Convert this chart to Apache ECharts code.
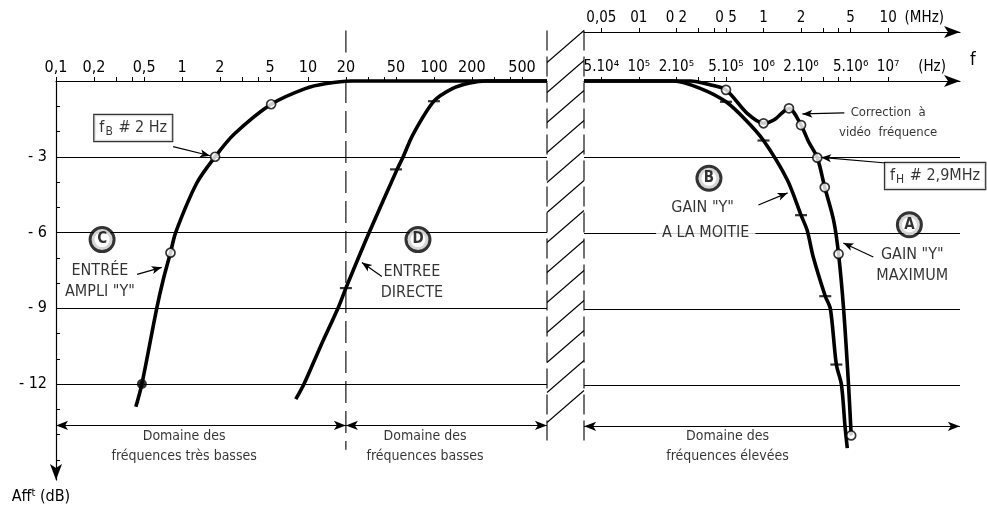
<!DOCTYPE html>
<html><head><meta charset="utf-8">
<script src="https://cdn.jsdelivr.net/npm/echarts@6/dist/echarts.min.js"></script>
<style>html,body{margin:0;padding:0;background:#fff}#c{width:987px;height:505px}</style>
</head><body><div id="c"></div>
<script>
const FONT = "'Liberation Sans Narrow','DejaVu Sans Condensed','Arial Narrow','Liberation Sans',sans-serif";

// ---------- axes ----------
const lowTickLabels = [0.1, 0.2, 0.5, 1, 2, 5, 10, 20, 50, 100, 200, 500];
const lowTicks = [0.1,0.2,0.3,0.4,0.5,1,2,3,4,5,10,20,30,40,50,100,200,300,400,500];
const highTicks = [5e4,1e5,2e5,3e5,4e5,5e5,1e6,2e6,3e6,4e6,5e6,1e7];
const hzLabelValues = [5e4,1e5,2e5,5e5,1e6,2e6,5e6,1e7,2.25e7];
const hzLabelTexts  = ['5.10⁴','10⁵','2.10⁵','5.10⁵','10⁶','2.10⁶','5.10⁶','10⁷','(Hz)'];
const mhzLabelValues = [5e4,1e5,2e5,5e5,1e6,2e6,5e6,1e7,1.95e7];
const mhzLabelTexts  = ['0,05','01','0 2','0 5','1','2','5','10','(MHz)'];
const dbTicks = [0,-1,-2,-3,-4,-5,-6,-7,-8,-9,-10,-11,-12,-13,-14,-15];
const dbLabels = [-3,-6,-9,-12];
const gridLevels = [-3,-6,-9,-12];
const LOW_MIN = 0.0999, LOW_MAX = 790;
const HIGH_MIN = 3.63e4, HIGH_MAX = 3.77e7;
const DB_MIN = -15.8;

// ---------- curves (f in Hz, attenuation in dB) ----------
const curveC = [[0.43,-12.9],[0.48,-12],[0.63,-9],[0.71,-7.86],[0.81,-6.8],[0.89,-6],[1.31,-4.04],[1.83,-3],[2.6,-2.1],[5.1,-0.92],[9.5,-0.3],[14,-0.1],[22,0],[790,0]];
const curveD = [[8,-12.6],[9.3,-12],[12.6,-10.5],[17.3,-9],[20,-8.2],[30.6,-6],[51,-3.5],[57,-3],[68,-2.13],[100,-0.8],[140,-0.3],[193,-0.08],[260,0],[790,0]];
const curveA = [[3.63e4,0],[2.6e5,0],[3.77e5,-0.16],[5e5,-0.35],[7.4e5,-1.28],[1e6,-1.67],[1.21e6,-1.54],[1.6e6,-1.08],[2e6,-1.74],[2.3e6,-2.4],[2.7e6,-3.03],[3.1e6,-4.2],[3.65e6,-5.5],[4e6,-6.83],[4.39e6,-9],[4.81e6,-12],[5.05e6,-14]];
const curveB = [[3.63e4,0],[1.9e5,0],[3.1e5,-0.29],[5e5,-0.82],[7.2e5,-1.54],[1e6,-2.35],[1.55e6,-3.9],[2e6,-5.3],[2.24e6,-5.9],[2.5e6,-6.93],[3.13e6,-8.5],[3.44e6,-9],[3.84e6,-11.2],[4.22e6,-12],[4.5e6,-13.6],[4.7e6,-14.5]];

// measured points (markers)
const pointsC = [[0.81,-6.8],[1.83,-3],[5.1,-0.92]];
const pointsCfilled = [[0.48,-12]];
const pointsD = [[20,-8.2],[50,-3.5],[100,-0.8]];
const pointsA = [[5e5,-0.35],[1e6,-1.67],[1.6e6,-1.08],[2e6,-1.74],[2.7e6,-3.03],[3.1e6,-4.2],[4e6,-6.83],[5.05e6,-14]];
const pointsB = [[5e5,-0.82],[1e6,-2.35],[2e6,-5.3],[3.13e6,-8.5],[3.84e6,-11.2]];

// ---------- annotations (data coordinates) ----------
const boundaryHz = 20;
const domainLevel = -13.64;
const domainsLow = [[0.1, 20], [20, 789]];
const domainsHigh = [[3.64e4, 3.76e7]];
const domainTextsLow = [[1.04,-14.45,'Domaine des\nfréquences très basses'],[85,-14.45,'Domaine des\nfréquences basses']];
const domainTextsHigh = [[5.15e5,-14.45,'Domaine des\nfréquences élevées']];
const lettersLow = [[0.232,-6.28,'C'],[74.7,-6.28,'D']];
const lettersHigh = [[3.65e5,-3.84,'B'],[1.48e7,-5.68,'A']];
const textsLow = [[0.223,-7.94,'ENTRÉE\nAMPLI "Y"'],[66.8,-7.97,'ENTREE\nDIRECTE']];
const textsHigh = [[3.25e5,-5.01,'GAIN "Y"'],[1.56e7,-7.3,'GAIN "Y"\nMAXIMUM']];
const maskedHigh = [[3.44e5,-6,'A LA MOITIE']];
const noteHigh = [[1e7,-1.66,'Correction  à\nvidéo  fréquence']];
const boxLow = [[0.41,-1.86,'f{sub|B} # 2 Hz']];
const boxHigh = [[2.38e7,-3.75,'f{sub|H} # 2,9MHz']];
const leadersLow = [[[0.85,-2.6],[1.67,-2.96]],[[0.44,-7.66],[0.69,-7.38]],[[38.6,-7.74],[26.8,-7.19]]];
const leadersHigh = [[[9.1e5,-4.9],[1.56e6,-4.42]],[[7.6e6,-6.95],[4.37e6,-6.4]],[[4.45e6,-1.26],[2.05e6,-1.3]],[[9.6e6,-3.24],[2.9e6,-3.02]]];
const hatchTop = 2, hatchBottom = -14.4;
const dashSegments = [[2, 1.1], [0, -14.6]];

// ---------- helpers ----------
function lookup(vals, texts){
  return function(v){
    for (let i=0;i<vals.length;i++){ if (Math.abs(Math.log10(v)-Math.log10(vals[i]))<0.004) return texts[i]; }
    return '';
  };
}
const lineStyleCurve = {color:'#000', width:3.6};
function curveSeries(data, gi){
  return {type:'line', xAxisIndex:gi, yAxisIndex:gi, data:data, smooth:0.3, showSymbol:false, symbol:'none',
    lineStyle:lineStyleCurve, clip:false, z:3, silent:true};
}
function markerSeries(data, gi, kind){
  const s = {type:'scatter', xAxisIndex:gi, yAxisIndex:gi, data:data, z:4, silent:true, clip:false};
  if (kind==='open'){ s.symbol='circle'; s.symbolSize=9; s.itemStyle={color:'#fff',borderColor:'#000',borderWidth:1.7}; }
  else if (kind==='dot'){ s.symbol='circle'; s.symbolSize=10; s.itemStyle={color:'#000'}; }
  else { s.symbol='path://M0,0H10V2H0Z'; s.symbolSize=[12,2.2]; s.itemStyle={color:'#000'}; }
  return s;
}
const circledLabel = t => ({show:true, position:'inside', formatter:t, fontSize:15, fontWeight:'bold', color:'#000',
  backgroundColor:'#fff', borderColor:'#000', borderWidth:3, borderRadius:14, width:21, height:21, lineHeight:21,
  align:'center', verticalAlign:'middle', padding:0, fontFamily:FONT});
const textLabel = t => ({show:true, position:'inside', formatter:t, fontSize:16, lineHeight:21, color:'#000', align:'center', fontFamily:FONT});
const maskLabel = t => ({show:true, position:'inside', formatter:t, fontSize:16, lineHeight:21, color:'#000', align:'center',
  backgroundColor:'#fff', padding:[0,6], fontFamily:FONT});
const noteLabel = t => ({show:true, position:'inside', formatter:t, fontSize:13, lineHeight:20, color:'#000', align:'center', fontFamily:FONT});
const domainLabel = t => ({show:true, position:'inside', formatter:t, fontSize:14, lineHeight:20, color:'#000', align:'center', fontFamily:FONT});
const boxLabel = t => ({show:true, position:'inside', formatter:t, fontSize:16, lineHeight:20, color:'#000',
  backgroundColor:'#fff', borderColor:'#000', borderWidth:1.2, padding:[3,5,3,5], fontFamily:FONT,
  rich:{sub:{fontSize:12, verticalAlign:'bottom', lineHeight:20, padding:[6,1,0,1], fontFamily:FONT}}});

function annotationSeries(gi, groups, leaders, domains){
  const data = [];
  groups.forEach(([arr, fn]) => arr.forEach(r => data.push({value:[r[0], r[1]], label: fn(r[2])})));
  const ml = [];
  gridLevels.forEach(l => ml.push({yAxis:l, symbol:'none', lineStyle:{color:'#000', width:1.1, type:'solid'}}));
  domains.forEach(d => ml.push([
    {coord:[d[0], domainLevel], symbol:'arrow', symbolSize:[7,12], lineStyle:{color:'#000', width:1.2, type:'solid'}},
    {coord:[d[1], domainLevel], symbol:'arrow', symbolSize:[7,12]}]));
  leaders.forEach(p => ml.push([
    {coord:p[0], symbol:'none', lineStyle:{color:'#000', width:1.2, type:'solid'}},
    {coord:p[1], symbol:'arrow', symbolSize:[6,10]}]));
  return {type:'scatter', xAxisIndex:gi, yAxisIndex:gi, data:data, symbolSize:1, itemStyle:{color:'rgba(0,0,0,0)'},
    z:10, silent:true, clip:false,
    markLine:{silent:true, z:1, animation:false, symbol:['none','none'], label:{show:false}, lineStyle:{color:'#000', type:'solid'},
      emphasis:{disabled:true}, data:ml}};
}

const axisLineStyle = {color:'#000', width:1.2};
const GRID_H = 400;
const option = {
  animation:false,
  backgroundColor:'#fff',
  textStyle:{fontFamily:FONT, color:'#000'},
  grid:[{left:56, top:81, width:491, height:GRID_H},{left:584, top:81, width:376, height:GRID_H}],
  xAxis:[
    {type:'log', gridIndex:0, position:'top', min:LOW_MIN, max:LOW_MAX,
     axisLine:{onZero:false, lineStyle:axisLineStyle},
     axisTick:{show:true, customValues:lowTicks, length:4, lineStyle:{color:'#000'}},
     axisLabel:{customValues:lowTickLabels, formatter:v => String(+(+v).toPrecision(3)).replace('.', ','), fontSize:16, margin:5, color:'#000', fontFamily:FONT},
     splitLine:{show:false}, minorTick:{show:false}},
    {type:'log', gridIndex:1, position:'top', min:HIGH_MIN, max:HIGH_MAX,
     axisLine:{onZero:false, lineStyle:axisLineStyle, symbol:['none','arrow'], symbolSize:[9,16]},
     axisTick:{show:true, customValues:highTicks, length:4, lineStyle:{color:'#000'}},
     axisLabel:{customValues:hzLabelValues, formatter:lookup(hzLabelValues, hzLabelTexts), fontSize:15, margin:6, color:'#000', fontFamily:FONT},
     splitLine:{show:false},
     name:'f', nameLocation:'end', nameGap:10,
     nameTextStyle:{fontSize:18, color:'#000', verticalAlign:'bottom', padding:[0,0,12,0], fontFamily:FONT}},
    {type:'log', gridIndex:1, position:'top', offset:49, min:HIGH_MIN, max:HIGH_MAX,
     axisLine:{onZero:false, lineStyle:axisLineStyle, symbol:['none','arrow'], symbolSize:[9,16]},
     axisTick:{show:true, customValues:highTicks, length:4, lineStyle:{color:'#000'}},
     axisLabel:{customValues:mhzLabelValues, formatter:lookup(mhzLabelValues, mhzLabelTexts), fontSize:15, margin:6, color:'#000', fontFamily:FONT},
     splitLine:{show:false}}
  ],
  yAxis:[
    {type:'value', gridIndex:0, min:DB_MIN, max:0,
     axisLine:{show:true, onZero:false, symbol:['arrow','none'], symbolSize:[9,16], lineStyle:axisLineStyle},
     axisTick:{show:true, customValues:dbTicks, inside:true, length:4, lineStyle:{color:'#000'}},
     axisLabel:{customValues:dbLabels, formatter:v => '- ' + Math.abs(v), fontSize:16, margin:9, color:'#000', fontFamily:FONT},
     splitLine:{show:false},
     name:'Aff{s|t} (dB)', nameLocation:'start', nameGap:8,
     nameTextStyle:{fontSize:16, color:'#000', align:'center', padding:[0,30,0,0], fontFamily:FONT,
       rich:{s:{fontSize:11, verticalAlign:'top', lineHeight:18, fontFamily:FONT}}}},
    {type:'value', gridIndex:1, min:DB_MIN, max:0, show:false}
  ],
  series:[
    curveSeries(curveC, 0),
    curveSeries(curveD, 0),
    markerSeries(pointsC, 0, 'open'),
    markerSeries(pointsCfilled, 0, 'dot'),
    markerSeries(pointsD, 0, 'dash'),
    curveSeries(curveA, 1),
    curveSeries(curveB, 1),
    markerSeries(pointsA, 1, 'open'),
    markerSeries(pointsB, 1, 'dash'),
    annotationSeries(0, [[lettersLow, circledLabel],[textsLow, textLabel],[boxLow, boxLabel],[domainTextsLow, domainLabel]], leadersLow, domainsLow),
    annotationSeries(1, [[lettersHigh, circledLabel],[textsHigh, textLabel],[maskedHigh, maskLabel],[noteHigh, noteLabel],[boxHigh, boxLabel],[domainTextsHigh, domainLabel]], leadersHigh, domainsHigh)
  ]
};

const chart = echarts.init(document.getElementById('c'), null, {renderer:'canvas'});
chart.setOption(option);

// decorative: axis break hatching and 20 Hz boundary (positions from the chart's scales)
function decorations(){
  const xL = chart.convertToPixel({gridIndex:0}, [LOW_MAX, 0])[0];
  const xR = chart.convertToPixel({gridIndex:1}, [HIGH_MIN, 0])[0];
  const yT = chart.convertToPixel({gridIndex:0}, [LOW_MAX, hatchTop])[1];
  const yB = chart.convertToPixel({gridIndex:0}, [LOW_MAX, hatchBottom])[1];
  const g = [];
  const stroke = {stroke:'#000', lineWidth:1.1};
  g.push({type:'rect', shape:{x:xL+1, y:yT, width:xR-xL-2, height:yB-yT}, style:{fill:'#fff'}, z:20, silent:true});
  g.push({type:'line', shape:{x1:xL, y1:yT, x2:xL, y2:yB}, style:Object.assign({lineDash:[20,6]}, stroke), z:21, silent:true});
  g.push({type:'line', shape:{x1:xR, y1:yT, x2:xR, y2:yB}, style:Object.assign({lineDash:[20,6]}, stroke), z:21, silent:true});
  const rise = 32, step = 30;
  for (let y = yT + rise; y <= yB + 0.5; y += step){
    g.push({type:'line', shape:{x1:xL, y1:y, x2:xR, y2:y - rise}, style:stroke, z:21, silent:true});
  }
  dashSegments.forEach(s => {
    const d1 = chart.convertToPixel({gridIndex:0}, [boundaryHz, s[0]]);
    const d2 = chart.convertToPixel({gridIndex:0}, [boundaryHz, s[1]]);
    g.push({type:'line', shape:{x1:d1[0], y1:d1[1], x2:d2[0], y2:d2[1]}, style:{stroke:'#000', lineWidth:1.1, lineDash:[22,8]}, z:2, silent:true});
  });
  chart.setOption({graphic:{elements:g}});
}
decorations();
</script>
</body></html>
